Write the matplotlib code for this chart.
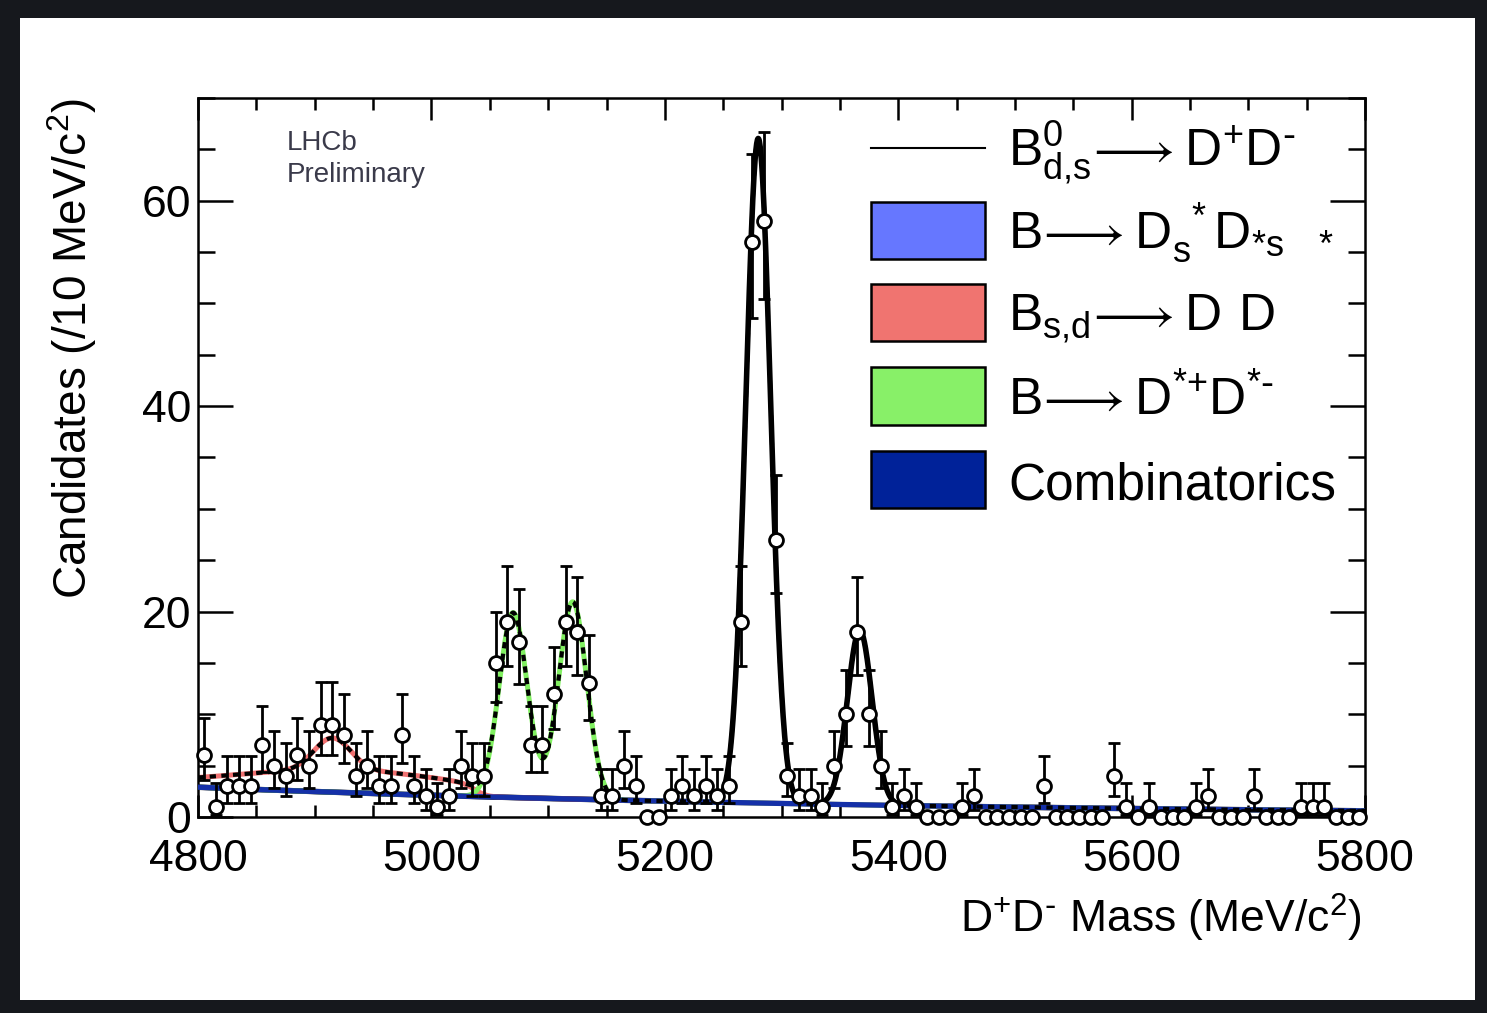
import numpy as np
import matplotlib.pyplot as plt
from matplotlib.patches import Rectangle
from matplotlib.lines import Line2D
from matplotlib.ticker import MultipleLocator

plt.rcParams['font.family'] = ['Liberation Sans', 'DejaVu Sans']
plt.rcParams['mathtext.default'] = 'regular'

# -----------------------------------------
# DATA (10 MeV bins, 4800 - 5800)
# -----------------------------------------
mass_lo, mass_hi, bin_width = 4800, 5800, 10
counts = [6, 1, 3, 3, 3, 7, 5, 4, 6, 5,      # 4805-4895
          9, 9, 8, 4, 5, 3, 3, 8, 3, 2,      # 4905-4995
          1, 2, 5, 4, 4, 15, 19, 17, 7, 7,   # 5005-5095
          12, 19, 18, 13, 2, 2, 5, 3, 0, 0,  # 5105-5195
          2, 3, 2, 3, 2, 3, 19, 56, 58, 27,  # 5205-5295
          4, 2, 2, 1, 5, 10, 18, 10, 5, 1,   # 5305-5395
          2, 1, 0, 0, 0, 1, 2, 0, 0, 0,      # 5405-5495
          0, 0, 3, 0, 0, 0, 0, 0, 4, 1,      # 5505-5595
          0, 1, 0, 0, 0, 1, 2, 0, 0, 0,      # 5605-5695
          2, 0, 0, 0, 1, 1, 1, 0, 0, 0]      # 5705-5795

# fit components
comb_norm, comb_slope = 2.9, -0.00158
sig_means, sig_sigma, sig_amps = [5280, 5367], 10.6, [64.7, 17.0]
dstar_means, dstar_sigma, dstar_amps = [5070, 5121], 12.0, [18.0, 19.2]
part_means, part_sigmas, part_amps = [4915, 4930], [15.7, 100.0], [3.1, 2.2]
part_endpoint, part_edge = 5038, 5.0

arrow = r"\!\longrightarrow "
legend_labels = [r"$B^{0}_{d{,}s}" + arrow + r"D^{+}D^{\text{-}}$",
                 r"$B" + arrow + r"D^{\ *}_{s}D_{*s}\ \ _{*}$",
                 r"$B_{s{,}d}" + arrow + r"D\ D$",
                 r"$B" + arrow + r"D^{*{+}}D^{*\text{-}}$",
                 "Combinatorics"]
legend_colors = [None, '#6677ff', '#f07470', '#88f068', '#002299']

# -----------------------------------------
# MODEL CURVES
# -----------------------------------------
def gauss(x, mu, s, a):
    return a * np.exp(-0.5 * ((x - mu) / s) ** 2)

m = np.linspace(mass_lo, mass_hi, 3001)
comb = comb_norm * np.exp(comb_slope * (m - mass_lo))
sig = sum(gauss(m, mu, sig_sigma, a) for mu, a in zip(sig_means, sig_amps))
dstar = sum(gauss(m, mu, dstar_sigma, a) for mu, a in zip(dstar_means, dstar_amps))
part = sum(gauss(m, mu, s, a) for mu, s, a in zip(part_means, part_sigmas, part_amps))
part = part / (1 + np.exp((m - part_endpoint) / part_edge))
total = comb + sig + dstar + part

centers = np.arange(mass_lo + bin_width / 2, mass_hi, bin_width)
n = np.array(counts, dtype=float)
# Gehrels approximation of Poisson intervals
hi = np.where(n > 0, np.sqrt(n + 0.75) + 1.0, 0.0)
nn = np.where(n > 0, n, 1.0)
lo = np.where(n > 0, n - nn * (1 - 1 / (9 * nn) - 1 / (3 * np.sqrt(nn))) ** 3, 0.0)

# -----------------------------------------
# PLOT
# -----------------------------------------
fig = plt.figure(figsize=(14.87, 10.13), dpi=100, facecolor='#16181d')
fig.add_artist(Rectangle((0.0135, 0.013), 0.9785, 0.969, transform=fig.transFigure,
                         facecolor='white', edgecolor='none', zorder=-5))
ax = fig.add_axes([0.1332, 0.1935, 0.7848, 0.7098])

ax.plot(m, comb + sig, color='black', lw=4.0, zorder=2)
ax.plot(m, comb + part, color='#f07070', lw=3.6, zorder=2)
ax.plot(m, comb + dstar, color='#80f060', lw=3.6, zorder=2)
ax.plot(m, comb, color='#1530a8', lw=3.8, zorder=3)
ax.plot(m, total, color='black', lw=3.0, ls=(0, (1.5, 1.3)), zorder=4)

eb = ax.errorbar(centers, counts, yerr=[lo, hi], fmt='o', ms=10, mfc='white', mec='black',
                 mew=2.0, ecolor='black', elinewidth=2.0, capsize=4, capthick=2.0, zorder=5)
for art in eb.get_children():
    art.set_clip_on(False)

ax.set_xlim(mass_lo, mass_hi)
ax.set_ylim(0, 70)
ax.xaxis.set_major_locator(MultipleLocator(200))
ax.xaxis.set_minor_locator(MultipleLocator(50))
ax.yaxis.set_major_locator(MultipleLocator(20))
ax.yaxis.set_minor_locator(MultipleLocator(5))
ax.tick_params(which='both', direction='in', top=True, right=True, width=1.8, labelsize=32)
ax.tick_params(axis='x', which='major', length=16, pad=16)
ax.tick_params(axis='x', which='minor', length=8.5)
ax.tick_params(axis='y', which='major', length=25, pad=5)
ax.tick_params(axis='y', which='minor', length=12)
for sp in ax.spines.values():
    sp.set_linewidth(1.8)

ax.text(-0.108, 1.0, r"Candidates (/10 MeV/c$^{2}$)", transform=ax.transAxes,
        rotation=90, ha='center', va='top', fontsize=33)
ax.text(0.997, -0.14, r"D$^{+}$D$^{\text{-}}$ Mass (MeV/c$^{2}$)", transform=ax.transAxes,
        ha='right', va='center', fontsize=32)
ax.text(0.076, 0.955, "LHCb\nPreliminary", transform=ax.transAxes, ha='left', va='top',
        fontsize=20, color='#3a3a4a', linespacing=1.3)

# legend drawn by hand
row_y = [0.9305, 0.815, 0.701, 0.5855, 0.470]
base_y = [0.9068, 0.7914, 0.6773, 0.5591, 0.4409]
bx, bw, bh = 0.5767, 0.0977, 0.0793
for i, (lab, col) in enumerate(zip(legend_labels, legend_colors)):
    if col is None:
        ax.add_line(Line2D([bx, bx + bw], [row_y[i], row_y[i]], color='black', lw=1.5,
                           transform=ax.transAxes))
    else:
        ax.add_patch(Rectangle((bx, row_y[i] - bh / 2), bw, bh, transform=ax.transAxes,
                               facecolor=col, edgecolor='black', lw=1.8, zorder=6))
    ax.text(0.694, base_y[i], lab, transform=ax.transAxes, ha='left', va='baseline',
            fontsize=37, zorder=6)

fig.savefig('out.png', dpi=100, facecolor=fig.get_facecolor())
